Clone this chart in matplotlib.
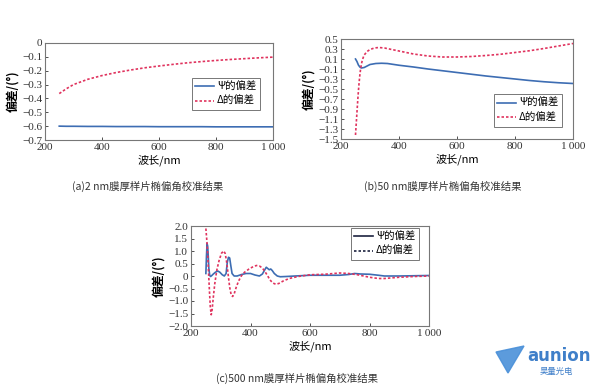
import matplotlib
matplotlib.use("Agg")
import matplotlib.pyplot as plt
from matplotlib.lines import Line2D
from matplotlib.patches import Polygon

plt.rcParams["font.family"] = ["Liberation Serif", "Noto Sans CJK SC", "DejaVu Sans"]
plt.rcParams["axes.unicode_minus"] = True

W, H = 604, 388
PSI_C = "#3d6db3"
DEL_C = "#e0335e"
TICK_FS = 8
CJK = ["Noto Sans CJK SC", "DejaVu Sans"]

# (a) 2 nm
wl_a = [250, 275, 300, 350, 400, 450, 500, 550, 600, 650, 700, 750, 800, 850, 900, 950, 1000]
psi_a = [-0.600, -0.601, -0.601, -0.602, -0.602, -0.603, -0.603, -0.603, -0.604, -0.604,
         -0.604, -0.604, -0.605, -0.605, -0.605, -0.605, -0.605]
del_a = [-0.365, -0.330, -0.300, -0.262, -0.235, -0.213, -0.195, -0.179, -0.166, -0.154,
         -0.143, -0.134, -0.126, -0.119, -0.113, -0.107, -0.102]

# (b) 50 nm
wl_b_psi = [250, 255, 260, 265, 270, 280, 290, 300, 320, 340, 360, 400, 450, 500, 550, 600,
            650, 700, 750, 800, 850, 900, 950, 1000]
psi_b = [0.10, 0.05, -0.02, -0.06, -0.08, -0.07, -0.04, -0.01, 0.01, 0.015, 0.01, -0.025,
         -0.06, -0.10, -0.135, -0.17, -0.205, -0.24, -0.27, -0.30, -0.33, -0.355, -0.375, -0.39]
wl_b_del = [250, 253, 256, 259, 262, 265, 268, 272, 276, 280, 290, 300, 315, 330, 350, 375,
            400, 450, 500, 550, 600, 650, 700, 750, 800, 850, 900, 950, 1000]
del_b = [-1.42, -1.15, -0.88, -0.62, -0.40, -0.22, -0.08, 0.04, 0.12, 0.18, 0.25, 0.29, 0.32,
         0.33, 0.32, 0.29, 0.26, 0.20, 0.16, 0.14, 0.14, 0.15, 0.17, 0.195, 0.23, 0.265,
         0.31, 0.36, 0.41]

# (c) 500 nm
wl_c_psi = [250, 252, 254, 256, 258, 260, 263, 266, 270, 275, 282, 290, 297, 305, 312, 318,
            322, 326, 330, 334, 338, 345, 355, 370, 385, 400, 415, 430, 440, 448, 453, 458,
            463, 468, 473, 480, 490, 500, 520, 550, 600, 650, 700, 730, 750, 770, 800, 830,
            850, 900, 950, 1000]
psi_c = [0.10, 0.80, 1.30, 1.20, 0.80, 0.30, 0.02, -0.02, 0.02, 0.08, 0.15, 0.20, 0.15, 0.05,
         0.00, 0.10, 0.55, 0.75, 0.72, 0.40, 0.10, 0.00, 0.00, 0.06, 0.10, 0.10, 0.04, 0.00,
         0.08, 0.25, 0.35, 0.30, 0.25, 0.28, 0.22, 0.10, 0.00, -0.03, -0.02, 0.00, 0.03, 0.03,
         0.03, 0.06, 0.10, 0.08, 0.07, 0.03, 0.00, 0.00, 0.01, 0.02]
wl_c_del = [250, 254, 258, 262, 265, 268, 271, 275, 280, 287, 295, 303, 310, 315, 320, 325,
            330, 335, 340, 345, 352, 360, 370, 380, 395, 410, 420, 430, 440, 450, 458, 465,
            475, 485, 495, 510, 530, 560, 600, 650, 700, 730, 760, 800, 830, 850, 900, 950, 1000]
del_c = [1.90, 1.30, 0.40, -0.60, -1.25, -1.55, -1.35, -0.85, -0.30, 0.25, 0.65, 0.92, 1.00,
         0.90, 0.55, 0.05, -0.45, -0.75, -0.82, -0.72, -0.45, -0.20, 0.02, 0.15, 0.28, 0.38,
         0.42, 0.40, 0.32, 0.15, 0.00, -0.15, -0.28, -0.33, -0.30, -0.20, -0.10, -0.02, 0.05,
         0.07, 0.12, 0.10, 0.05, -0.05, -0.10, -0.10, -0.05, -0.02, 0.00]

xticks = [200, 400, 600, 800, 1000]
xtick_labels = ["200", "400", "600", "800", "1\u2009000"]


def fmt(v, dec):
    if abs(v) < 1e-9:
        return "0"
    s = f"{abs(v):.{dec}f}"
    return ("\u2212" if v < 0 else "") + s


def px_axes(fig, l, t, r, b):
    return fig.add_axes([l / W, 1 - b / H, (r - l) / W, (b - t) / H])


def style(ax, yticks, dec, cap, cap_x, cap_y):
    ax.set_xlim(200, 1000)
    ax.set_xticks(xticks)
    ax.set_xticklabels(xtick_labels)
    ax.set_yticks(yticks)
    ax.set_yticklabels([fmt(v, dec) for v in yticks])
    ax.tick_params(direction="in", length=2.5, width=0.6, labelsize=TICK_FS, pad=2,
                   colors="#333333")
    for sp in ax.spines.values():
        sp.set_color("#777777")
        sp.set_linewidth(0.8)
    ax.set_ylabel("偏差/(°)", family=CJK, fontsize=8.5, fontweight="bold", labelpad=2)
    ax.set_xlabel("波长/nm", family=CJK, fontsize=8, labelpad=2)
    fig.text(cap_x / W, 1 - cap_y / H, cap, family=CJK, fontsize=7.5, ha="center",
             va="center", color="#333333")


def add_legend(ax, anchor, loc, handles=None, labels=None):
    kw = dict(loc=loc, bbox_to_anchor=anchor, prop={"family": CJK, "size": 7.5},
              fancybox=False, handlelength=1.8, borderpad=0.35, labelspacing=0.45,
              handletextpad=0.3, borderaxespad=0)
    if handles is None:
        leg = ax.legend(**kw)
    else:
        leg = ax.legend(handles, labels, **kw)
    leg.get_frame().set_edgecolor("#555555")
    leg.get_frame().set_linewidth(0.7)
    return leg


fig = plt.figure(figsize=(W / 100, H / 100), dpi=100)

# panel a
ax = px_axes(fig, 45, 43, 273, 140)
ax.plot(wl_a, psi_a, color=PSI_C, lw=1.2, label="Ψ的偏差")
ax.plot(wl_a, del_a, color=DEL_C, lw=1.2, ls=(0, (1.5, 1.2)), label="Δ的偏差")
ax.set_ylim(-0.7, 0)
style(ax, [0, -0.1, -0.2, -0.3, -0.4, -0.5, -0.6, -0.7], 1,
      "(a)2 nm膜厚样片椭偏角校准结果", 148, 186)
add_legend(ax, ((260 - 45) / 228, 1 - (94 - 43) / 97), "center right")

# panel b
ax = px_axes(fig, 341, 39, 573, 139)
ax.plot(wl_b_psi, psi_b, color=PSI_C, lw=1.2, label="Ψ的偏差")
ax.plot(wl_b_del, del_b, color=DEL_C, lw=1.2, ls=(0, (1.5, 1.2)), label="Δ的偏差")
ax.set_ylim(-1.5, 0.5)
yb = [0.5, 0.3, 0.1, -0.1, -0.3, -0.5, -0.7, -0.9, -1.1, -1.3, -1.5]
style(ax, yb, 1, "(b)50 nm膜厚样片椭偏角校准结果", 443, 186)
add_legend(ax, ((562 - 341) / 232, 1 - (110.5 - 39) / 100), "center right")

# panel c
ax = px_axes(fig, 191, 226, 429, 326)
ax.plot(wl_c_psi, psi_c, color=PSI_C, lw=1.2)
ax.plot(wl_c_del, del_c, color=DEL_C, lw=1.2, ls=(0, (1.5, 1.2)))
ax.set_ylim(-2.0, 2.0)
yc = [2.0, 1.5, 1.0, 0.5, 0, -0.5, -1.0, -1.5, -2.0]
style(ax, yc, 1, "(c)500 nm膜厚样片椭偏角校准结果", 297, 378)
handles = [Line2D([], [], color="#1c2340", lw=1.2),
           Line2D([], [], color="#1c2340", lw=1.2, ls=(0, (1.5, 1.2)))]
add_legend(ax, ((419 - 191) / 238, 1 - (228 - 226) / 100), "upper right",
           handles, ["Ψ的偏差", "Δ的偏差"])

# watermark logo
tri = Polygon([(496 / W, 1 - 352 / H), (524 / W, 1 - 346 / H), (508 / W, 1 - 373 / H)],
              closed=True, transform=fig.transFigure, color="#4a90d9", alpha=0.9)
fig.patches.append(tri)
fig.text(527 / W, 1 - 356 / H, "aunion", fontsize=12, fontweight="bold",
         family="DejaVu Sans", color="#3f7fc9", va="center", ha="left")
fig.text(540 / W, 1 - 371 / H, "昊量光电", family=CJK, fontsize=6, color="#3f7fc9",
         va="center", ha="left")

fig.savefig("out.png", dpi=100)
